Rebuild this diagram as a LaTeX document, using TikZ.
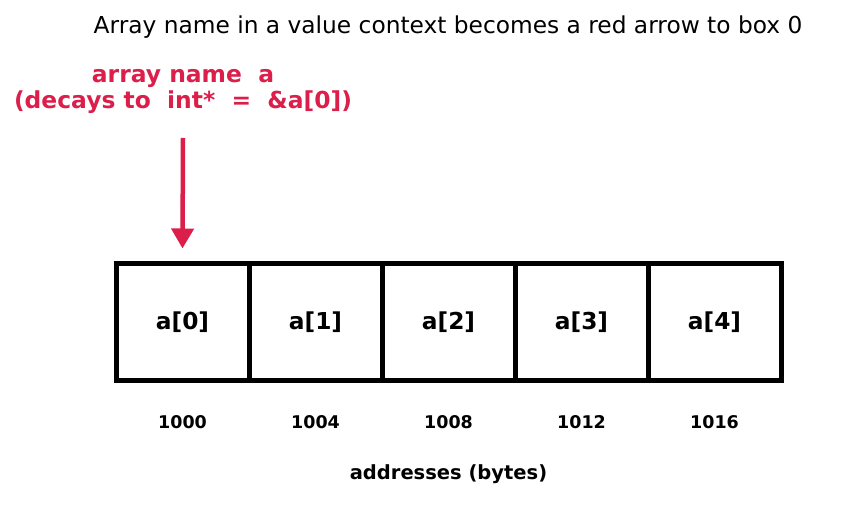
\documentclass[tikz,border=0pt]{standalone}
\usepackage{fontspec}
\setmainfont{DejaVu Sans}
\usetikzlibrary{arrows.meta}
\definecolor{crim}{RGB}{220,30,75}
\tikzset{
  cell/.style={draw=black, line width=5pt, minimum width=133pt, minimum height=116pt, inner sep=0pt, font=\fontsize{23.3}{27}\selectfont\bfseries},
  addr/.style={font=\fontsize{17.5}{21}\selectfont\bfseries},
  redlab/.style={text=crim, align=center, font=\fontsize{23.4}{26}\selectfont\bfseries},
}
\begin{document}
\begin{tikzpicture}[x=1pt,y=-1pt]
\useasboundingbox (0,0) rectangle (842,510);
\node[font=\fontsize{23.3}{27}\selectfont] (title) at (448,27) {Array name in a value context becomes a red arrow to box 0};
\node[redlab] (lab) at (183,91) {array name\ \ a\\(decays to\ \ int*\ \ =\ \ \&a[0])};
\foreach \i/\x in {0/182.5,1/315.5,2/448.5,3/581.5,4/714.5}{
  \node[cell] (c\i) at (\x,322) {a[\i]};
}
\foreach \i/\x/\v in {0/182.5/1000,1/315.5/1004,2/448.5/1008,3/581.5/1012,4/714.5/1016}{
  \node[addr] (ad\i) at (\x,422) {\v};
}
\node[font=\fontsize{19.5}{23}\selectfont\bfseries] (axis) at (448.5,474) {addresses (bytes)};
\coordinate (start) at (183,138);
\draw[crim, line width=4.5pt, -{Triangle[length=20pt,width=22pt]}] (start) -- ([yshift=13pt]c0.north);
\end{tikzpicture}
\end{document}
